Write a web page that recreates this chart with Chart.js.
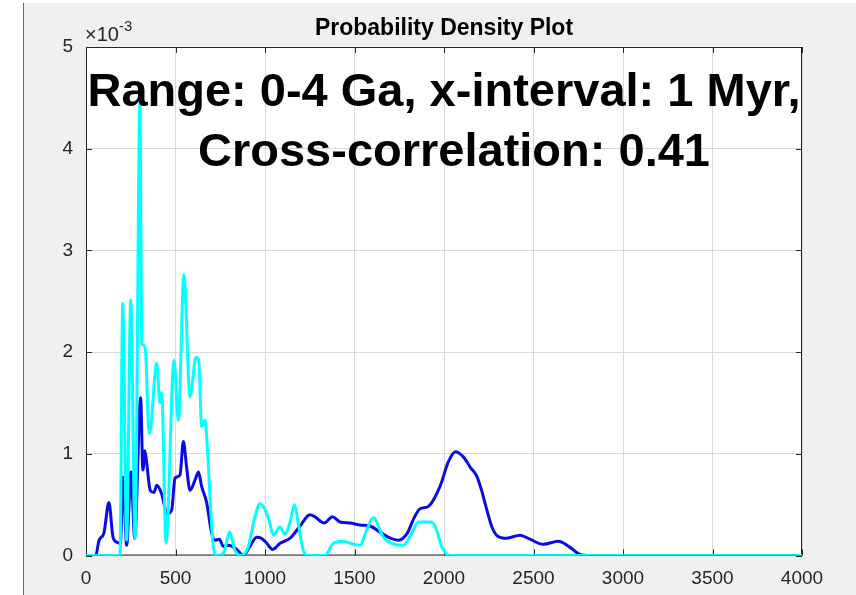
<!DOCTYPE html>
<html>
<head>
<meta charset="utf-8">
<script src="https://cdn.jsdelivr.net/npm/chart.js@4"></script>
<style>
  html, body { margin: 0; padding: 0; background: #fff; }
  #frame { position: absolute; left: 23px; top: 3px; width: 832px; height: 592px; background: #f0f0f0; border-left: 1px solid #4a64c8; }
  #box { position: absolute; left: 0; top: 0; width: 832px; height: 592px; }
</style>
</head>
<body>
<div id="frame"><div id="box"><canvas id="pdp"></canvas></div></div>
<script>
// age in Myr, density in units of 1e-3
const blueX = [0, 54, 73, 100, 128, 151, 173, 192, 207, 227, 252, 272, 305, 318, 329, 339, 359, 380, 395, 420, 455, 479, 497, 525, 544, 562, 581, 609, 628, 646, 674, 702, 721, 745, 767, 795, 842, 879, 916, 953, 980, 1005, 1043, 1084, 1140, 1196, 1251, 1279, 1330, 1377, 1419, 1475, 1531, 1587, 1642, 1700, 1745, 1795, 1830, 1866, 1910, 1978, 2024, 2064, 2108, 2150, 2183, 2210, 2239, 2270, 2300, 2350, 2425, 2480, 2555, 2639, 2704, 2760, 2816, 4000];
const blueY = [0, 0, 0.15, 0.22, 0.52, 0.18, 0.13, 0.12, 0.77, 0.10, 0.82, 0.17, 1.55, 0.84, 1.03, 0.91, 0.64, 0.62, 0.69, 0.62, 0.41, 0.45, 0.76, 0.79, 1.12, 0.87, 0.64, 0.74, 0.82, 0.68, 0.52, 0.22, 0.15, 0.16, 0.09, 0.10, 0.06, 0, 0.09, 0.18, 0.17, 0.13, 0.06, 0.12, 0.17, 0.29, 0.40, 0.38, 0.32, 0.38, 0.33, 0.32, 0.30, 0.29, 0.23, 0.17, 0.15, 0.22, 0.36, 0.46, 0.48, 0.68, 0.92, 1.02, 0.97, 0.86, 0.78, 0.64, 0.45, 0.27, 0.19, 0.17, 0.20, 0.16, 0.11, 0.14, 0.08, 0.01, 0, 0];

const cyanX = [0, 190, 205, 227, 250, 274, 302, 311, 322, 332, 348, 355, 395, 413, 423, 447, 492, 516, 547, 581, 615, 630, 646, 665, 674, 711, 730, 767, 804, 832, 870, 907, 944, 972, 1019, 1047, 1084, 1112, 1140, 1165, 1180, 1214, 1242, 1335, 1382, 1438, 1494, 1531, 1568, 1605, 1661, 1708, 1773, 1820, 1857, 1931, 1959, 1987, 2034, 4000];
const cyanY = [0, 0, 2.48, 0.15, 2.51, 0.17, 4.47, 2.09, 2.07, 2.02, 1.30, 1.20, 1.89, 1.50, 1.60, 0.12, 1.92, 1.33, 2.76, 1.56, 1.95, 1.92, 1.27, 1.33, 1.17, 0.09, 0, 0.02, 0.23, 0.05, 0, 0.09, 0.38, 0.51, 0.37, 0.20, 0.28, 0.21, 0.33, 0.50, 0.38, 0.05, 0, 0, 0.12, 0.14, 0.11, 0.10, 0.25, 0.37, 0.18, 0.12, 0.10, 0.22, 0.33, 0.33, 0.25, 0.09, 0, 0];

const xTicks = [0, 500, 1000, 1500, 2000, 2500, 3000, 3500, 4000];
const yTicks = [0, 1, 2, 3, 4, 5];

const titleText = "Probability Density Plot";
const noteLines = ["Range: 0-4 Ga, x-interval: 1 Myr,", "Cross-correlation: 0.41"];

const FONT = "'Liberation Sans', Arial, Helvetica, sans-serif";
const AXIS = "#262626";

function pts(xs, ys) {
  return xs.map((x, i) => ({ x: x, y: ys[i] }));
}

// white axes background, box outline and inward ticks like the original figure
const axesBox = {
  id: "axesBox",
  beforeDraw(chart) {
    const a = chart.chartArea;
    const c = chart.ctx;
    c.save();
    c.fillStyle = "#ffffff";
    c.fillRect(a.left, a.top, a.right - a.left, a.bottom - a.top);
    c.restore();
  },
  beforeDatasetsDraw(chart) {
    const a = chart.chartArea;
    const c = chart.ctx;
    const xs = chart.scales.x, ys = chart.scales.y;
    c.save();
    c.strokeStyle = AXIS;
    c.lineWidth = 1;
    c.beginPath();
    c.rect(a.left + 0.5, a.top + 0.5, a.right - a.left - 1, a.bottom - a.top - 1);
    xTicks.forEach(v => {
      const px = Math.round(xs.getPixelForValue(v)) + 0.5;
      c.moveTo(px, a.bottom); c.lineTo(px, a.bottom - 6);
      c.moveTo(px, a.top); c.lineTo(px, a.top + 6);
    });
    yTicks.forEach(v => {
      const py = Math.round(ys.getPixelForValue(v)) + 0.5;
      c.moveTo(a.left, py); c.lineTo(a.left + 6, py);
      c.moveTo(a.right, py); c.lineTo(a.right - 6, py);
    });
    c.stroke();
    c.restore();
  },
  afterDraw(chart) {
    const a = chart.chartArea;
    const c = chart.ctx;
    c.save();
    // exponent label
    c.fillStyle = AXIS;
    c.textBaseline = "alphabetic";
    c.textAlign = "left";
    c.font = "20px " + FONT;
    c.fillText("\u00d710", a.left - 1, a.top - 6);
    const w = c.measureText("\u00d710").width;
    c.font = "15px " + FONT;
    c.fillText("-3", a.left - 1 + w, a.top - 16);
    // title
    c.fillStyle = "#000";
    c.textAlign = "center";
    c.font = "bold 23px " + FONT;
    c.fillText(titleText, (a.left + a.right) / 2, a.top - 12);
    // annotation
    c.font = "bold 47px " + FONT;
    c.fillText(noteLines[0], (a.left + a.right) / 2, a.top + 59);
    c.fillText(noteLines[1], (a.left + a.right) / 2 + 10, a.top + 119);
    c.restore();
  }
};

new Chart(document.getElementById("pdp"), {
  type: "line",
  data: {
    datasets: [
      {
        label: "Sample A",
        data: pts(blueX, blueY),
        borderColor: "#0a0ae6",
        borderWidth: 3,
        pointRadius: 0,
        cubicInterpolationMode: "monotone",
        fill: false,
        order: 2,
      },
      {
        label: "Sample B",
        data: pts(cyanX, cyanY),
        borderColor: "#00ffff",
        borderWidth: 3,
        pointRadius: 0,
        cubicInterpolationMode: "monotone",
        fill: false,
        order: 1,
      },
    ],
  },
  options: {
    responsive: true,
    maintainAspectRatio: false,
    animation: false,
    layout: { padding: { left: 0, top: 44, right: 54, bottom: 0 } },
    plugins: {
      legend: { display: false },
      tooltip: { enabled: false },
    },
    scales: {
      x: {
        type: "linear",
        min: 0,
        max: 4000,
        afterBuildTicks: s => { s.ticks = xTicks.map(v => ({ value: v })); },
        afterFit: s => { s.height = 39.5; },
        ticks: { color: AXIS, font: { size: 19, family: FONT }, padding: 12, maxRotation: 0, callback: v => String(v) },
        grid: { color: "#d9d9d9", lineWidth: 1, drawTicks: false },
        border: { display: false },
      },
      y: {
        type: "linear",
        min: 0,
        max: 5,
        afterBuildTicks: s => { s.ticks = yTicks.map(v => ({ value: v })); },
        afterFit: s => { s.width = 62; },
        ticks: { color: AXIS, font: { size: 19, family: FONT }, padding: 13, callback: v => String(v) },
        grid: { color: "#d9d9d9", lineWidth: 1, drawTicks: false },
        border: { display: false },
      },
    },
  },
  plugins: [axesBox],
});
</script>
</body>
</html>
